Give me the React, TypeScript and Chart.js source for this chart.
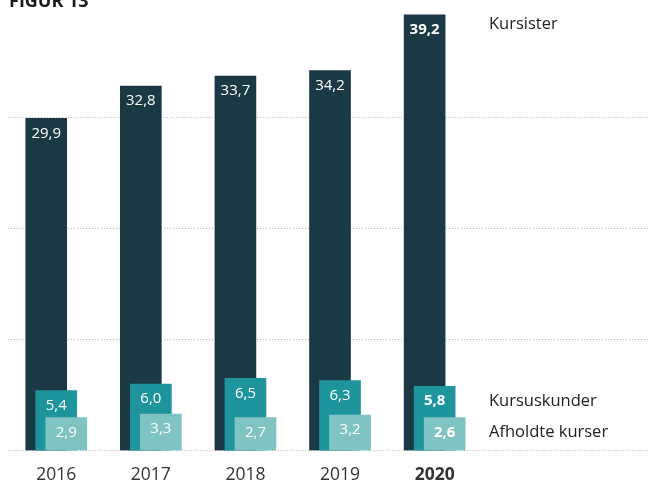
import { useEffect, useRef } from 'react';
import { Chart, registerables } from 'chart.js';

Chart.register(...registerables);

// ---- data ----
const YEARS = ['2016', '2017', '2018', '2019', '2020'];
const KURSISTER = [29.9, 32.8, 33.7, 34.2, 39.2];
const KURSUSKUNDER = [5.4, 6.0, 6.5, 6.3, 5.8];
const AFHOLDTE_KURSER = [2.9, 3.3, 2.7, 3.2, 2.6];
const SERIES_NAMES = ['Kursister', 'Kursuskunder', 'Afholdte kurser'];
const Y_TICKS = [0, 10, 20, 30, 40];
const TITLE = 'FIGUR 13';

// ---- style ----
const FONT = "'Open Sans', sans-serif";
const COLORS = ['#1b3945', '#1e959d', '#7fc3c2'];
const SHIFT = [-0.106, 0, 0.106]; // per-series offset, in category units
const MIN_BAR = [0, 0, 33]; // minimum bar length in px (room for label)
const X_MIN = -0.51;
const X_MAX = 6.266;
const LEGEND_X = 489;
const LEGEND_DY = [9, 15, 15];
const LABEL_DY = 15;

const fmt = (v: number) => v.toFixed(1).replace('.', ',');

export default function App() {
  const ref = useRef<HTMLCanvasElement | null>(null);

  useEffect(() => {
    if (!ref.current) return;
    const series = [KURSISTER, KURSUSKUNDER, AFHOLDTE_KURSER];
    const labelsPlugin = {
      id: 'labelsPlugin',
      afterDatasetsDraw(chart: any) {
        const ctx = chart.ctx;
        ctx.save();
        chart.data.datasets.forEach((ds: any, di: number) => {
          const meta = chart.getDatasetMeta(di);
          const vals = series[di];
          meta.data.forEach((el: any, i: number) => {
            const last = i === meta.data.length - 1;
            ctx.font = `${last ? 'bold ' : ''}15px ${FONT}`;
            ctx.fillStyle = '#ffffff';
            ctx.textAlign = 'center';
            ctx.textBaseline = 'middle';
            ctx.fillText(fmt(vals[i]), el.x, el.y + LABEL_DY);
          });
          const lastEl = meta.data[meta.data.length - 1];
          ctx.font = `16.5px ${FONT}`;
          ctx.fillStyle = '#222222';
          ctx.textAlign = 'left';
          ctx.textBaseline = 'middle';
          ctx.fillText(SERIES_NAMES[di], LEGEND_X, lastEl.y + LEGEND_DY[di]);
        });
        ctx.font = `bold 18px ${FONT}`;
        ctx.fillStyle = '#1a1a1a';
        ctx.textAlign = 'left';
        ctx.textBaseline = 'alphabetic';
        ctx.fillText(TITLE, 9, 7);
        ctx.restore();
      },
    };

    const chart = new Chart(ref.current, {
      type: 'bar',
      data: {
        datasets: series.map((vals, di) => ({
          label: SERIES_NAMES[di],
          data: vals.map((v, i) => ({ x: i + SHIFT[di], y: v })),
          backgroundColor: COLORS[di],
          borderWidth: 0,
          barThickness: 41,
          minBarLength: MIN_BAR[di],
          grouped: false,
          order: 3 - di,
        })),
      },
      options: {
        responsive: false,
        animation: false,
        layout: { padding: { left: 8, right: 0, top: 6, bottom: 0 } },
        plugins: {
          legend: { display: false },
          tooltip: { enabled: false },
          title: { display: false },
        },
        scales: {
          x: {
            type: 'linear',
            offset: false,
            min: X_MIN,
            max: X_MAX,
            grid: { display: false, offset: false },
            border: { display: false },
            afterBuildTicks: (scale: any) => {
              scale.ticks = YEARS.map((_, i) => ({ value: i }));
            },
            afterFit: (scale: any) => {
              scale.height = 29.3;
            },
            ticks: {
              padding: 6,
              maxRotation: 0,
              autoSkip: false,
              color: '#333333',
              font: (c: any) => ({
                family: FONT,
                size: 17.5,
                weight: c.tick && c.tick.value === YEARS.length - 1 ? 'bold' : 'normal',
              }),
              callback: (v: any) => YEARS[v] ?? '',
            },
          },
          y: {
            min: Y_TICKS[0],
            max: Y_TICKS[Y_TICKS.length - 1],
            afterBuildTicks: (scale: any) => {
              scale.ticks = Y_TICKS.map((v) => ({ value: v }));
            },
            afterFit: (scale: any) => {
              scale.width = 0;
            },
            ticks: { display: false },
            grid: {
              drawTicks: false,
              lineWidth: 1,
              color: (c: any) =>
                c.tick && c.tick.value === Y_TICKS[Y_TICKS.length - 1] ? 'rgba(0,0,0,0)' : '#b4b4b4',
            },
            border: { display: false, dash: [1, 2] },
          },
        },
      },
      plugins: [labelsPlugin],
    } as any);
    return () => chart.destroy();
  }, []);

  return (
    <div style={{ position: 'absolute', left: 0, top: 0, width: 649, height: 480, background: '#fff' }}>
      <canvas ref={ref} width={649} height={480} style={{ width: 649, height: 480, display: 'block' }} />
    </div>
  );
}
